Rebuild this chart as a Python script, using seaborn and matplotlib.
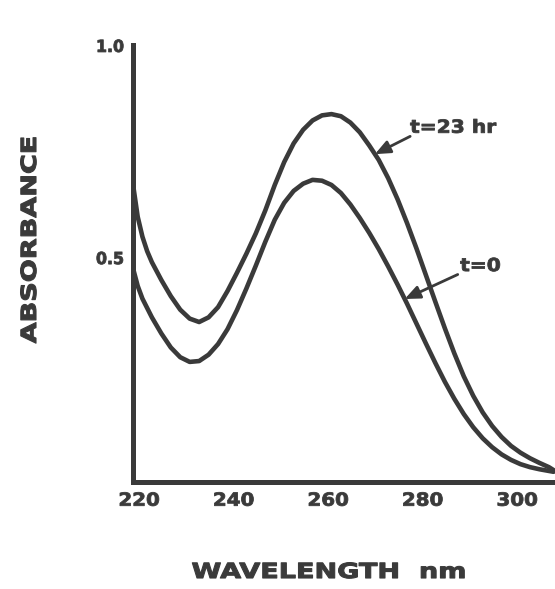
import numpy as np
import pandas as pd
import matplotlib
matplotlib.use("Agg")
import matplotlib.pyplot as plt
import seaborn as sns
from matplotlib.patheffects import AbstractPathEffect
from matplotlib.transforms import Affine2D, ScaledTranslation

# UV spectra of the solution at the start and after 23 hours (wavelength in nm)
wavelength = [220, 221, 222, 223, 224, 226, 228, 230, 232, 234,
              236, 238, 240, 242, 244, 246, 248, 250, 252, 254,
              256, 258, 260, 262, 264, 266, 268, 270, 272, 274,
              276, 278, 280, 282, 284, 286, 288, 290, 292, 294,
              296, 298, 300, 302, 304, 306, 308, 309]
abs_t0 = [0.474, 0.432, 0.402, 0.380, 0.358, 0.320, 0.287, 0.264, 0.253, 0.255,
          0.270, 0.295, 0.330, 0.375, 0.426, 0.480, 0.536, 0.588, 0.628, 0.656,
          0.673, 0.682, 0.680, 0.670, 0.651, 0.624, 0.592, 0.557, 0.519, 0.478,
          0.435, 0.390, 0.343, 0.296, 0.250, 0.206, 0.166, 0.130, 0.099, 0.073,
          0.052, 0.035, 0.022, 0.012, 0.005, 0.000, -0.004, -0.006]
abs_23 = [0.672, 0.595, 0.548, 0.514, 0.488, 0.446, 0.408, 0.376, 0.355, 0.347,
          0.358, 0.382, 0.420, 0.463, 0.508, 0.556, 0.610, 0.670, 0.724, 0.768,
          0.800, 0.822, 0.834, 0.837, 0.832, 0.817, 0.794, 0.763, 0.729, 0.686,
          0.636, 0.580, 0.520, 0.457, 0.394, 0.332, 0.273, 0.219, 0.173, 0.134,
          0.102, 0.076, 0.055, 0.039, 0.026, 0.015, 0.005, -0.002]

x_ticks = [220, 240, 260, 280, 300]
y_ticks = [0.5, 1.0]
y_tick_labels = ["0.5", "1.0"]
series_labels = ["t=0", "t=23 hr"]

INK = "#3a3a3a"


class Widen(AbstractPathEffect):
    """Stretch glyph outlines along the baseline (about the middle of the line)
    and give them a thin outline so the lettering reads heavier."""

    def __init__(self, sx, stroke=0.6):
        super().__init__()
        self.sx = sx
        self.stroke = stroke

    def draw_path(self, renderer, gc, tpath, affine, rgbFace=None):
        v = tpath.vertices
        cx = 0.5 * (v[:, 0].min() + v[:, 0].max()) if len(v) else 0.0
        widen = Affine2D().translate(-cx, 0).scale(self.sx, 1.0).translate(cx, 0)
        gc0 = renderer.new_gc()
        gc0.copy_properties(gc)
        if self.stroke and rgbFace is not None:
            gc0.set_linewidth(self.stroke)
            gc0.set_foreground(rgbFace)
            gc0.set_joinstyle("round")
        renderer.draw_path(gc0, tpath, widen + affine, rgbFace)
        gc0.restore()


sns.set_style("white")
plt.rcParams["font.family"] = ["DejaVu Sans"]
plt.rcParams["font.weight"] = "bold"

fig = plt.figure(figsize=(5.55, 5.89), dpi=100)
ax = fig.add_axes([0.2396, 0.1817, 0.7604, 0.742])

df = pd.concat([
    pd.DataFrame({"wavelength": wavelength, "absorbance": abs_t0, "time": series_labels[0]}),
    pd.DataFrame({"wavelength": wavelength, "absorbance": abs_23, "time": series_labels[1]}),
])
sns.lineplot(data=df, x="wavelength", y="absorbance", hue="time",
             palette=[INK, INK], estimator=None, sort=False, legend=False,
             linewidth=3.3, ax=ax)
for ln in ax.lines:
    ln.set_solid_capstyle("round")
    ln.set_solid_joinstyle("round")

ax.set_xlim(220, 309.3)
ax.set_ylim(-0.03, 1.0)

for side in ("top", "right"):
    ax.spines[side].set_visible(False)
for side in ("left", "bottom"):
    ax.spines[side].set_color(INK)
    ax.spines[side].set_linewidth(3.6)
    ax.spines[side].set_capstyle("projecting")

ax.set_xticks(x_ticks)
ax.set_xticklabels([str(v) for v in x_ticks])
ax.set_yticks(y_ticks)
ax.set_yticklabels(y_tick_labels)
ax.tick_params(axis="x", direction="in", length=8, width=2.2, color=INK,
               labelsize=13, labelcolor=INK, pad=7)
ax.tick_params(axis="y", direction="in", length=5, width=2.2, color=INK,
               labelsize=12, labelcolor=INK, pad=6)

shift = ScaledTranslation(6 / 100, 0, fig.dpi_scale_trans)
for lab in ax.get_xticklabels():
    lab.set_fontweight("bold")
    lab.set_transform(lab.get_transform() + shift)
    lab.set_path_effects([Widen(1.1)])
for lab in ax.get_yticklabels():
    lab.set_fontweight("bold")
    lab.set_path_effects([Widen(0.95)])

ax.set_xlabel("WAVELENGTH  nm", fontsize=15, fontweight="bold", color=INK, va="center")
ax.xaxis.set_label_coords(0.464, -0.206)
ax.xaxis.label.set_path_effects([Widen(1.3, 0.8)])

ax.set_ylabel("ABSORBANCE", fontsize=15, fontweight="bold", color=INK, va="center")
ax.yaxis.set_label_coords(-0.244, 0.554)
ax.yaxis.label.set_path_effects([Widen(1.3, 0.8)])

arrow = dict(arrowstyle="-|>,head_length=0.7,head_width=0.3", lw=2.0,
             color=INK, shrinkA=1, shrinkB=0, relpos=(0.0, 0.15))

tip_23 = 271.2
ax.annotate(series_labels[1], xy=(tip_23, np.interp(tip_23, wavelength, abs_23)),
            xytext=(287.7, 0.793), ha="center", va="baseline",
            fontsize=13, fontweight="bold", color=INK, arrowprops=arrow,
            path_effects=[Widen(1.12)])

tip_0 = 277.5
ax.annotate(series_labels[0], xy=(tip_0, np.interp(tip_0, wavelength, abs_t0)),
            xytext=(293.5, 0.467), ha="center", va="baseline",
            fontsize=13, fontweight="bold", color=INK, arrowprops=arrow,
            path_effects=[Widen(1.12)])

fig.savefig("out.png", dpi=100)
